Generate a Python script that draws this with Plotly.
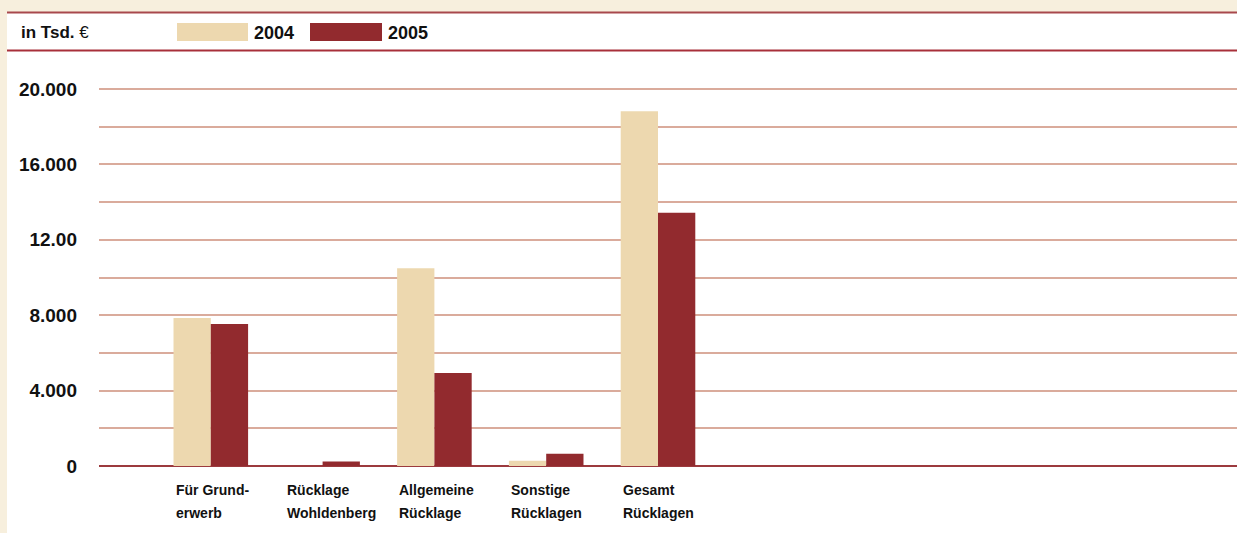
import plotly.graph_objects as go

# ---- data ----
categories = ["Für Grund-<br>erwerb", "Rücklage<br>Wohldenberg", "Allgemeine<br>Rücklage",
              "Sonstige<br>Rücklagen", "Gesamt<br>Rücklagen"]
series_names = ["2004", "2005"]
values_2004 = [7850, 0, 10490, 280, 18820]
values_2005 = [7530, 240, 4930, 650, 13440]
tick_values = [0, 2000, 4000, 6000, 8000, 10000, 12000, 14000, 16000, 18000, 20000]
tick_labels = ["0", "", "4.000", "", "8.000", "", "12.00", "", "16.000", "", "20.000"]
unit_label = "<b>in Tsd.</b> €"

# ---- style ----
W, H = 1237, 533
ML, MR, MT, MB = 99, 0, 82, 67
BEIGE = "#F7EFDD"
C2004 = "#EDD8AF"
C2005 = "#922A2E"
GRID = "#DAAB9C"
ZERO = "#9C3A3E"
FONT = "Liberation Sans, Arial, sans-serif"

pw = W - ML - MR
ph = H - MT - MB


def px2x(px):
    return (px - ML) / pw


def py2y(py):
    return (H - MB - py) / ph


xpos = [i + 1 for i in range(len(categories))]

fig = go.Figure()
fig.add_trace(go.Bar(x=xpos, y=values_2004, name=series_names[0], marker_color=C2004,
                     marker_line_width=0, showlegend=False))
fig.add_trace(go.Bar(x=xpos, y=values_2005, name=series_names[1], marker_color=C2005,
                     marker_line_width=0, showlegend=False))

y_top = ph / (377 / 20000)

shapes = [
    # white panel over beige background
    dict(type="rect", xref="paper", yref="paper", x0=px2x(7), x1=px2x(W + 5),
         y0=py2y(12), y1=py2y(H + 5), fillcolor="white", line_width=0, layer="below"),
    # top rule
    dict(type="line", xref="paper", yref="paper", x0=px2x(7), x1=px2x(W + 5),
         y0=py2y(12.5), y1=py2y(12.5), line=dict(color="#A8484C", width=2)),
    # header rule
    dict(type="line", xref="paper", yref="paper", x0=px2x(7), x1=px2x(W + 5),
         y0=py2y(50.5), y1=py2y(50.5), line=dict(color="#A8303A", width=2)),
    # legend swatches
    dict(type="rect", xref="paper", yref="paper", x0=px2x(177), x1=px2x(248),
         y0=py2y(41), y1=py2y(23), fillcolor=C2004, line_width=0),
    dict(type="rect", xref="paper", yref="paper", x0=px2x(310), x1=px2x(382),
         y0=py2y(41), y1=py2y(23), fillcolor=C2005, line_width=0),
]

annotations = [
    dict(text=unit_label, xref="paper", yref="paper", x=px2x(19), y=py2y(33),
         xanchor="left", yanchor="middle", showarrow=False,
         font=dict(family=FONT, size=17, color="#111111")),
    dict(text="<b>" + series_names[0] + "</b>", xref="paper", yref="paper", x=px2x(252), y=py2y(33),
         xanchor="left", yanchor="middle", showarrow=False,
         font=dict(family=FONT, size=18, color="#111111")),
    dict(text="<b>" + series_names[1] + "</b>", xref="paper", yref="paper", x=px2x(386), y=py2y(33),
         xanchor="left", yanchor="middle", showarrow=False,
         font=dict(family=FONT, size=18, color="#111111")),
]

for xp, cat in zip(xpos, categories):
    for k, line in enumerate(cat.split("<br>")):
        annotations.append(dict(text="<b>" + line + "</b>",
                                xref="x", yref="paper", x=xp - 0.3335, y=py2y(490 + 23 * k),
                                xanchor="left", yanchor="middle", align="left", showarrow=False,
                                font=dict(family=FONT, size=14, color="#111111")))

fig.update_layout(
    width=W, height=H,
    margin=dict(l=ML, r=MR, t=MT, b=MB, pad=0),
    paper_bgcolor=BEIGE,
    plot_bgcolor="rgba(0,0,0,0)",
    barmode="group", bargap=0.333, bargroupgap=0,
    shapes=shapes,
    annotations=annotations,
    showlegend=False,
    xaxis=dict(range=[0, pw / 111.8], showticklabels=False, showgrid=False,
               zeroline=False, showline=False, fixedrange=True),
    yaxis=dict(range=[0, y_top], tickmode="array", tickvals=tick_values, ticktext=tick_labels,
               showgrid=True, gridcolor=GRID, gridwidth=1.5,
               zeroline=True, zerolinecolor=ZERO, zerolinewidth=2,
               showline=False, ticks="", ticklabelstandoff=21,
               tickfont=dict(family=FONT, size=19, color="#111111", weight="bold"),
               fixedrange=True),
)

fig.write_html("out.html", config={"displayModeBar": False},
               post_script="document.body.style.margin='0';document.body.style.padding='0';")
